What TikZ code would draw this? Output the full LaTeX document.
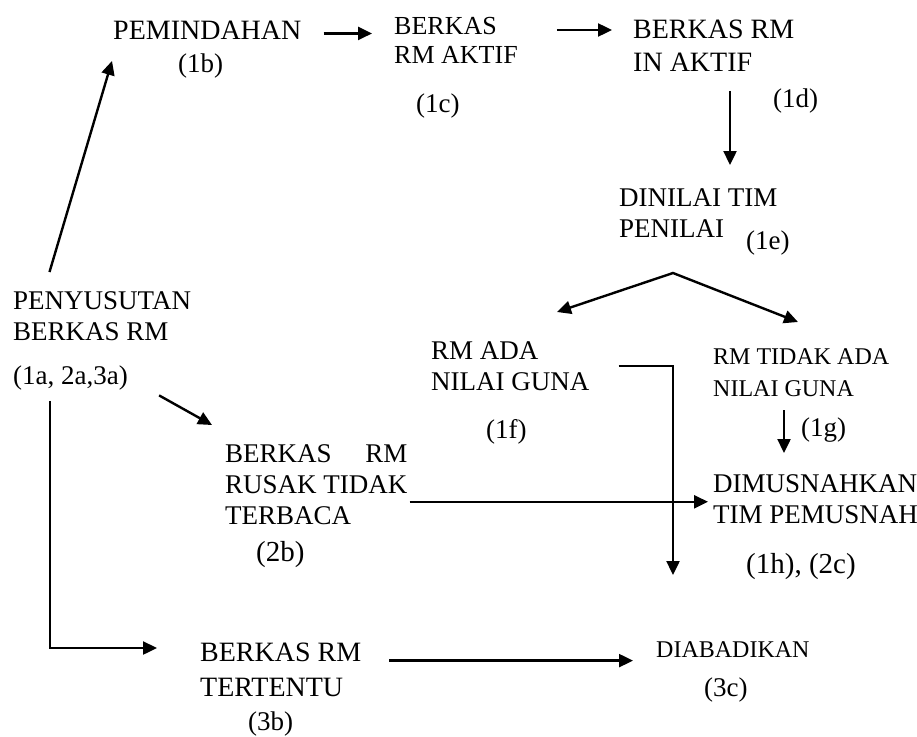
\documentclass[tikz,border=0pt]{standalone}
\usepackage{fontspec}
\setmainfont{Liberation Serif}
\usepackage{calc}
\usetikzlibrary{arrows.meta}

\begin{document}
\begin{tikzpicture}[x=1pt,y=-1pt,->,>={Triangle[length=14pt,width=13pt]},
        line width=2.4pt,
        box/.style={anchor=north west,inner sep=0pt,align=left,font=\fontsize{27}{31}\selectfont},
        big box/.style={box,font=\fontsize{28}{33}\selectfont},
        small box/.style={box,font=\fontsize{24}{32}\selectfont},
        kode/.style={box}]

    \useasboundingbox (0,0) rectangle (917,736);

    \node[big box] (pemindahan) at (112,20) {PEMINDAHAN};
    \node[kode] (k1b) at (177,53) {(1b)};
    \node[box,font=\fontsize{26}{29}\selectfont] (aktif) at (393,16) {BERKAS\\RM AKTIF};
    \node[kode] (k1c) at (415,93) {(1c)};
    \node[big box] (inaktif) at (632,19) {BERKAS RM\\IN AKTIF};
    \node[kode] (k1d) at (772,88) {(1d)};
    \node[box] (dinilai) at (618,187) {DINILAI TIM\\PENILAI};
    \node[kode] (k1e) at (745,230) {(1e)};
    \node[box] (penyusutan) at (12,290) {PENYUSUTAN\\BERKAS RM};
    \node[kode] (k1a) at (12,365) {(1a, 2a,3a)};
    \node[box] (adaguna) at (430,340) {RM ADA\\NILAI GUNA};
    \node[kode] (k1f) at (485,418) {(1f)};
    \node[small box] (tidakguna) at (712,347) {RM TIDAK ADA\\NILAI GUNA};
    \node[kode] (k1g) at (800,417) {(1g)};
    \node[box] (rusak) at (224,443) {\makebox[\widthof{RUSAK TIDAK}][s]{BERKAS\hfill RM}\\RUSAK TIDAK\\TERBACA};
    \node[kode,font=\fontsize{29}{33}\selectfont] (k2b) at (255,540) {(2b)};
    \node[box] (musnah) at (712,473) {DIMUSNAHKAN\\TIM PEMUSNAH};
    \node[kode,font=\fontsize{29}{33}\selectfont] (k1h) at (745,552) {(1h), (2c)};
    \node[big box,font=\fontsize{28}{35}\selectfont] (tertentu) at (199,642) {BERKAS RM\\TERTENTU};
    \node[kode] (k3b) at (247,711) {(3b)};
    \node[small box] (diabadikan) at (655,640) {DIABADIKAN};
    \node[kode] (k3c) at (703,677) {(3c)};

    \coordinate (cabang) at (673,273);
    \coordinate (ujung) at (673,575);

    % alur pemindahan
    \draw[shorten <=21pt,shorten >=21pt] ([yshift=-3pt]pemindahan.east) -- ([yshift=-3pt]pemindahan.east -| aktif.west);
    \draw[shorten <=38pt,shorten >=20pt] ([yshift=-14pt]aktif.north east) -- ([yshift=-14pt]aktif.north east -| inaktif.west);
    \draw[shorten <=18pt,shorten >=22pt] ([xshift=98pt]inaktif.south west) -- ([xshift=98pt]inaktif.south west |- dinilai.north);
    \draw[<->] ([xshift=127pt,yshift=28pt]adaguna.north west) -- (cabang) -- ([xshift=86pt,yshift=25pt]tidakguna.north west);
    \draw[shorten <=28pt] (adaguna.east) -| (ujung);
    \draw[shorten <=13pt,shorten >=20pt] ([xshift=72pt]tidakguna.south west) -- ([xshift=72pt]tidakguna.south west |- musnah.north);

    % dari penyusutan
    \draw ([xshift=37.5pt,yshift=18pt]penyusutan.north west) -- ([yshift=-20pt]pemindahan.south west);
    \draw ([xshift=30pt,yshift=-3.5pt]k1a.south east) -- ([xshift=-12pt,yshift=18pt]rusak.north west);
    \draw ([xshift=38pt,yshift=-9pt]k1a.south west) |- ([xshift=-42pt,yshift=-6pt]tertentu.north west);
    \draw[shorten <=1pt,shorten >=4pt] ([yshift=-17.5pt]rusak.east) -- ([yshift=-17.5pt]rusak.east -| musnah.west);
    \draw[shorten <=27pt,shorten >=22pt] ([yshift=9.5pt]tertentu.east) -- ([yshift=9.5pt]tertentu.east -| diabadikan.west);
\end{tikzpicture}
\end{document}
